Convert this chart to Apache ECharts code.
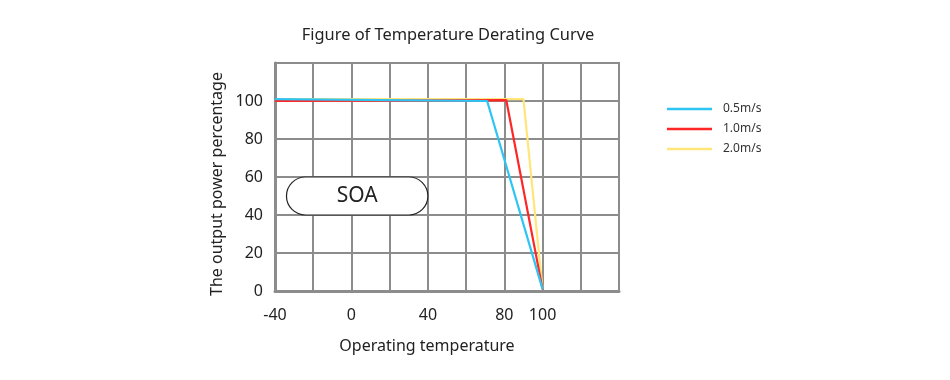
<!DOCTYPE html>
<html>
<head>
<meta charset="utf-8">
<script src="https://cdn.jsdelivr.net/npm/echarts@6/dist/echarts.min.js"></script>
<style>
html,body{margin:0;padding:0;background:#fff;}
#c{width:950px;height:380px;}
</style>
</head>
<body>
<div id="c"></div>
<script>
// ---- data ----
const seriesNames = ['0.5m/s', '1.0m/s', '2.0m/s'];
const temp05 = [-40, 71, 100];
const power05 = [101, 100, 1];
const temp10 = [-40, 81, 100];
const power10 = [100, 100.5, 1];
const temp20 = [-40, 90, 100];
const power20 = [101, 101, 1];
const xTickLabels = [-40, 0, 40, 80, 100];
const yTickLabels = [0, 20, 40, 60, 80, 100];
const soaLabel = 'SOA';
const soaBox = [[-34, 60], [40, 40]];

function pairs(xs, ys) { return xs.map((x, i) => [x, ys[i]]); }

const FONT = '"Noto Sans", "Open Sans", sans-serif';
const GRID = '#8c8c8c';
const colors = { '0.5m/s': '#2ec4f3', '1.0m/s': '#ff2626', '2.0m/s': '#ffe57a' };

const chart = echarts.init(document.getElementById('c'), null, { renderer: 'canvas' });
const option = {
  animation: false,
  backgroundColor: '#fff',
  title: {
    text: 'Figure of Temperature Derating Curve',
    left: 443, top: 22, textAlign: 'center',
    textStyle: { fontFamily: FONT, fontSize: 16.4, fontWeight: 'normal', color: '#222' }
  },
  legend: {
    orient: 'vertical',
    left: 662, top: 98,
    itemWidth: 45, itemHeight: 12, itemGap: 8,
    icon: 'path://M0,0H45V2.4H0Z',
    data: seriesNames,
    textStyle: { fontFamily: FONT, fontSize: 12, color: '#333', padding: [0, 0, 0, 6] }
  },
  grid: {
    left: 275, top: 63, width: 344, height: 228,
    show: true, borderColor: GRID, borderWidth: 2, backgroundColor: 'transparent'
  },
  xAxis: {
    type: 'value', min: -40, max: 140, interval: 20,
    name: 'Operating temperature', nameLocation: 'middle', nameGap: 47,
    nameTextStyle: { fontFamily: FONT, fontSize: 16, color: '#222', padding: [0, 40, 0, 0] },
    axisLine: { show: true, onZero: false, lineStyle: { color: GRID, width: 3 } },
    axisTick: { show: false },
    splitLine: { show: true, lineStyle: { color: GRID, width: 2 } },
    axisLabel: {
      margin: 16, fontFamily: FONT, fontSize: 16, color: '#222',
      formatter: v => xTickLabels.indexOf(v) >= 0 ? String(v) : ''
    }
  },
  yAxis: {
    type: 'value', min: 0, max: 120, interval: 20,
    name: 'The output power percentage', nameLocation: 'middle', nameGap: 50,
    nameTextStyle: { fontFamily: FONT, fontSize: 16, color: '#222', padding: [0, 14, 0, 0] },
    axisLine: { show: true, onZero: false, lineStyle: { color: GRID, width: 3 } },
    axisTick: { show: false },
    splitLine: { show: true, lineStyle: { color: GRID, width: 2 } },
    axisLabel: {
      margin: 12, fontFamily: FONT, fontSize: 16, color: '#222',
      formatter: v => yTickLabels.indexOf(v) >= 0 ? String(v) : ''
    }
  },
  series: [
    { name: '2.0m/s', type: 'line', data: pairs(temp20, power20), symbol: 'none',
      lineStyle: { color: colors['2.0m/s'], width: 2.2 }, itemStyle: { color: colors['2.0m/s'] } },
    { name: '1.0m/s', type: 'line', data: pairs(temp10, power10), symbol: 'none',
      lineStyle: { color: colors['1.0m/s'], width: 2.2 }, itemStyle: { color: colors['1.0m/s'] } },
    { name: '0.5m/s', type: 'line', data: pairs(temp05, power05), symbol: 'none',
      lineStyle: { color: colors['0.5m/s'], width: 2.2 }, itemStyle: { color: colors['0.5m/s'] } }
  ]
};
chart.setOption(option);

const p1 = chart.convertToPixel({ gridIndex: 0 }, soaBox[0]);
const p2 = chart.convertToPixel({ gridIndex: 0 }, soaBox[1]);
const w = p2[0] - p1[0], h = p2[1] - p1[1];
chart.setOption({
  graphic: [{
    type: 'group', z: 100,
    children: [
      { type: 'rect', shape: { x: p1[0], y: p1[1], width: w, height: h, r: h / 2 },
        style: { fill: '#fff', stroke: '#222', lineWidth: 1.2 } },
      { type: 'text', x: p1[0] + w / 2, y: p1[1] + h / 2,
        style: { text: soaLabel, fontFamily: FONT, fontSize: 21, fill: '#222',
                 align: 'center', verticalAlign: 'middle' } }
    ]
  }]
});
</script>
</body>
</html>
